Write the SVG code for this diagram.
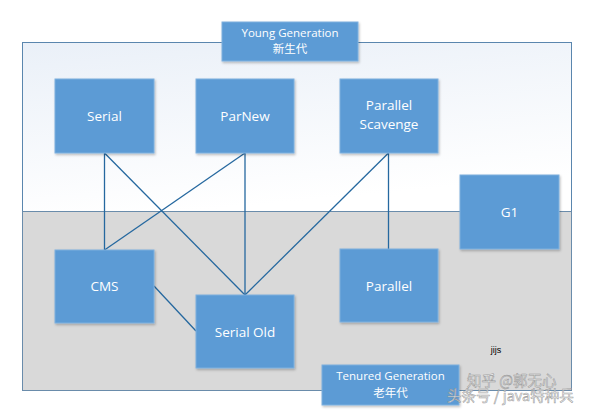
<svg xmlns="http://www.w3.org/2000/svg" width="596" height="418" viewBox="0 0 596 418">
<defs>
<linearGradient id="yg" x1="0" y1="0" x2="0.3" y2="1">
<stop offset="0" stop-color="#eaf0f8"/>
<stop offset="1" stop-color="#ffffff"/>
</linearGradient>
<filter id="sh" x="-10%" y="-10%" width="130%" height="130%">
<feDropShadow dx="1" dy="1.5" stdDeviation="1" flood-color="#000" flood-opacity="0.25"/>
</filter>
</defs>
<style>
.box{fill:#5b9bd5;stroke:#7fb0de;stroke-width:1;filter:url(#sh)}
.lbl{fill:#ffffff;font-family:"Open Sans","Liberation Sans",sans-serif;font-size:13.5px;text-anchor:middle}
.sm{fill:#ffffff;font-family:"Open Sans","Liberation Sans","Noto Sans CJK SC",sans-serif;font-size:11.5px;text-anchor:middle}
.con{stroke:#25689f;stroke-width:1.3;fill:none}
.wm{fill:#ffffff;fill-opacity:0.75;stroke:#8a8a8a;stroke-width:0.6;stroke-opacity:0.8;font-family:"Noto Sans CJK SC",sans-serif;font-size:14.5px}
</style>
<rect x="0" y="0" width="596" height="418" fill="#ffffff"/>
<g id="frame">
<rect x="22.5" y="42.5" width="549" height="169" fill="url(#yg)" stroke="#5a86ae" stroke-width="1"/>
<rect x="22.5" y="211.5" width="549" height="179" fill="#d9d9d9" stroke="#6a8cab" stroke-width="1"/>
</g>
<g id="connectors">
<line class="con" x1="104.5" y1="153" x2="104.5" y2="250"/>
<line class="con" x1="104.5" y1="153" x2="245" y2="295"/>
<line class="con" x1="245" y1="153" x2="104.5" y2="250"/>
<line class="con" x1="245" y1="153" x2="245" y2="295"/>
<line class="con" x1="388.5" y1="153" x2="245" y2="295"/>
<line class="con" x1="388.5" y1="153" x2="388.5" y2="249"/>
<line class="con" x1="154" y1="286" x2="196" y2="331"/>
</g>
<g id="young-generation">
<rect class="box" x="222" y="22" width="136" height="39"/>
<text class="sm" x="290" y="37">Young Generation</text>
<text class="sm" x="290" y="53">新生代</text>
</g>
<g id="serial">
<rect class="box" x="55" y="79" width="99" height="74"/>
<text class="lbl" x="104.5" y="120.5">Serial</text>
</g>
<g id="parnew">
<rect class="box" x="196" y="79" width="98" height="74"/>
<text class="lbl" x="245" y="120.5">ParNew</text>
</g>
<g id="parallel-scavenge">
<rect class="box" x="340" y="79" width="98" height="74"/>
<text class="lbl" x="389" y="110">Parallel</text>
<text class="lbl" x="389" y="129">Scavenge</text>
</g>
<g id="g1">
<rect class="box" x="460" y="175" width="99" height="74"/>
<text class="lbl" x="509.5" y="216.5">G1</text>
</g>
<g id="cms">
<rect class="box" x="55" y="250" width="99" height="73"/>
<text class="lbl" x="104.5" y="291">CMS</text>
</g>
<g id="serial-old">
<rect class="box" x="196" y="295" width="98" height="73"/>
<text class="lbl" x="245" y="337">Serial Old</text>
</g>
<g id="parallel">
<rect class="box" x="340" y="249" width="98" height="73"/>
<text class="lbl" x="389" y="291">Parallel</text>
</g>
<g id="tenured-generation">
<rect class="box" x="322" y="365" width="137" height="40"/>
<text class="sm" x="390.5" y="380">Tenured Generation</text>
<text class="sm" x="390.5" y="397">老年代</text>
</g>
<text x="496" y="353" font-family="'Liberation Sans',sans-serif" font-size="9px" fill="#000000" text-anchor="middle">jijs</text>
<text class="wm" x="467" y="386">知乎 @郭无心</text>
<text class="wm" x="447" y="401">头条号 / java特种兵</text>
</svg>
